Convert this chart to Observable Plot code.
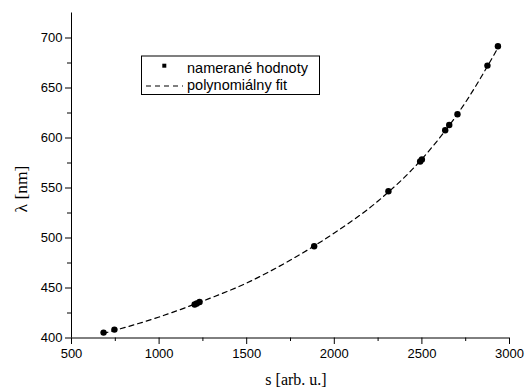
<!DOCTYPE html>
<html><head><meta charset="utf-8">
<script src="https://cdn.jsdelivr.net/npm/d3@7"></script>
<script src="https://cdn.jsdelivr.net/npm/@observablehq/plot@0.6"></script>
<style>body{margin:0;background:#fff}</style>
</head><body><div id="chart"></div>
<script>
// measured points
const sVals = [683, 745, 1203, 1215, 1231, 1885, 2309, 2490, 2500, 2633, 2656, 2703, 2874, 2934];
const lamVals = [405.4, 408.4, 433.5, 434.5, 436, 491.7, 546.7, 576.5, 578.5, 607.7, 613, 623.7, 672.4, 691.7];
// polynomial fit curve
const fitS = [680, 750, 1000, 1250, 1500, 1750, 2000, 2250, 2500, 2750, 2940];
const fitL = [404.5, 407.8, 421, 437, 455, 478, 505, 537, 579, 636, 692];
// ticks
const xMajor = [500, 1000, 1500, 2000, 2500, 3000];
const xMinor = [750, 1250, 1750, 2250, 2750];
const yMajor = [400, 450, 500, 550, 600, 650, 700];
const yMinor = [425, 475, 525, 575, 625, 675];
const legendLabels = ["namerané hodnoty", "polynomiálny fit"];
const xTitle = "s [arb. u.]";
const yTitle = "λ [nm]";

const points = sVals.map((s, i) => ({s, lam: lamVals[i]}));
const fit = fitS.map((s, i) => ({s, lam: fitL[i]}));
const fmt = d3.format("d");

const plot = Plot.plot({
  width: 525, height: 392,
  marginLeft: 71, marginRight: 16, marginTop: 12.5, marginBottom: 54.5,
  style: {fontFamily: "'Liberation Sans', Arial, sans-serif", fontSize: "13px", background: "#fff", color: "#000", overflow: "visible"},
  x: {domain: [500, 3000]},
  y: {domain: [400, 725]},
  marks: [
    Plot.axisX(xMajor, {tickSize: 6.5, tickPadding: 4, label: null, fontSize: 13, tickFormat: fmt}),
    Plot.axisX(xMinor, {tickSize: 3.5, tickFormat: () => "", label: null}),
    Plot.axisY(yMajor, {tickSize: 6, tickPadding: 3, label: null, fontSize: 13, tickFormat: fmt}),
    Plot.axisY(yMinor, {tickSize: 4, tickFormat: () => "", label: null}),
    Plot.ruleY([400], {stroke: "#000"}),
    Plot.ruleX([500], {stroke: "#000"}),
    Plot.line(fit, {x: "s", y: "lam", curve: "monotone-x", stroke: "#000", strokeWidth: 1.2, strokeDasharray: "5,4"}),
    Plot.dot(points, {x: "s", y: "lam", r: 3.2, fill: "#000", stroke: "none"})
  ]
});

const svg = d3.select(plot);
// axis titles
svg.append("text").attr("x", 296).attr("y", 385).attr("text-anchor", "middle")
  .attr("font-family", "'Liberation Serif', 'Times New Roman', serif").attr("font-size", 16).attr("fill", "#000").text(xTitle);
svg.append("text").attr("transform", "translate(27,189) rotate(-90)").attr("text-anchor", "middle")
  .attr("font-family", "'Liberation Serif', 'Times New Roman', serif").attr("font-size", 17.5).attr("fill", "#000").text(yTitle);
// legend
const lg = svg.append("g").attr("text-anchor", "start");
lg.append("rect").attr("x", 141.5).attr("y", 56).attr("width", 178).attr("height", 38.5)
  .attr("fill", "#fff").attr("stroke", "#000").attr("stroke-width", 1);
lg.append("rect").attr("x", 162.3).attr("y", 63.7).attr("width", 4).attr("height", 4).attr("fill", "#000");
lg.append("line").attr("x1", 146).attr("x2", 183).attr("y1", 86).attr("y2", 86)
  .attr("stroke", "#000").attr("stroke-width", 1.2).attr("stroke-dasharray", "5,4");
lg.append("text").attr("x", 187).attr("y", 72.5).attr("text-anchor", "start").attr("font-size", 14.5).attr("font-family", "'Liberation Sans', Arial, sans-serif").attr("fill", "#000").text(legendLabels[0]);
lg.append("text").attr("x", 187).attr("y", 90).attr("text-anchor", "start").attr("font-size", 14.5).attr("font-family", "'Liberation Sans', Arial, sans-serif").attr("fill", "#000").text(legendLabels[1]);

document.getElementById("chart").appendChild(plot);
</script>
</body></html>
